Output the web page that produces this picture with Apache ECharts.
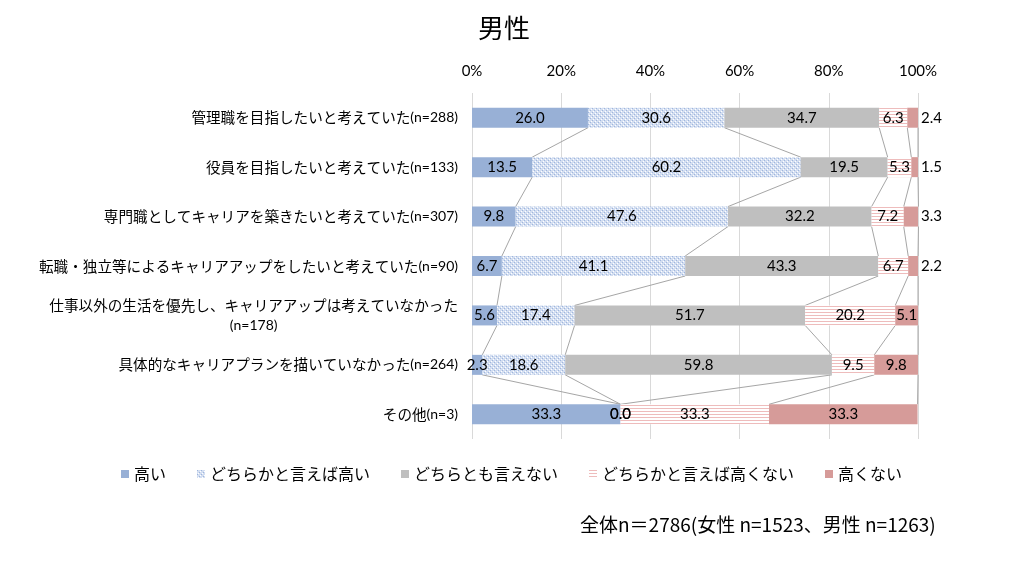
<!DOCTYPE html>
<html lang="ja">
<head>
<meta charset="UTF-8">
<title>男性</title>
<script src="https://cdn.jsdelivr.net/npm/echarts@6/dist/echarts.min.js"></script>
<style>
  html, body { margin: 0; padding: 0; background: #fff; }
  #chart { width: 1024px; height: 575px; }
</style>
</head>
<body>
<div id="chart"></div>
<script>
// カテゴリ（上から順）
var catNames = [
  '管理職を目指したいと考えていた',
  '役員を目指したいと考えていた',
  '専門職としてキャリアを築きたいと考えていた',
  '転職・独立等によるキャリアアップをしたいと考えていた',
  '仕事以外の生活を優先し、キャリアアップは考えていなかった',
  '具体的なキャリアプランを描いていなかった',
  'その他'
];
var catN = ['(n=288)', '(n=133)', '(n=307)', '(n=90)', '(n=178)', '(n=264)', '(n=3)'];

var seriesNames = ['高い', 'どちらかと言えば高い', 'どちらとも言えない', 'どちらかと言えば高くない', '高くない'];

var takai        = [26.0, 13.5,  9.8,  6.7,  5.6,  2.3, 33.3];
var yaya_takai   = [30.6, 60.2, 47.6, 41.1, 17.4, 18.6,  0.0];
var dochiramo    = [34.7, 19.5, 32.2, 43.3, 51.7, 59.8,  0.0];
var yaya_hikui   = [ 6.3,  5.3,  7.2,  6.7, 20.2,  9.5, 33.3];
var takakunai    = [ 2.4,  1.5,  3.3,  2.2,  5.1,  9.8, 33.3];

var xTicks = [0, 20, 40, 60, 80, 100];

var values = [takai, yaya_takai, dochiramo, yaya_hikui, takakunai];

// 模様（ドット・横縞）
function dotPattern() {
  var c = document.createElement('canvas');
  c.width = 4; c.height = 4;
  var g = c.getContext('2d');
  g.fillStyle = '#d3def1';
  g.fillRect(0, 0, 4, 4);
  g.fillStyle = '#9fb6dd';
  g.fillRect(0, 0, 1, 1);
  g.fillRect(2, 2, 1, 1);
  g.fillStyle = '#ffffff';
  g.fillRect(1, 3, 1, 1);
  g.fillRect(3, 1, 1, 1);
  return c;
}
function stripePattern() {
  var c = document.createElement('canvas');
  c.width = 4; c.height = 3;
  var g = c.getContext('2d');
  g.fillStyle = '#ffffff';
  g.fillRect(0, 0, 4, 3);
  g.fillStyle = '#eebcbc';
  g.fillRect(0, 0, 4, 1);
  return c;
}

var colors = [
  '#98b0d6',
  { image: dotPattern(), repeat: 'repeat' },
  '#bfbfbf',
  { image: stripePattern(), repeat: 'repeat' },
  '#d69b99'
];

var BAR_H = 20;

var series = values.map(function (arr, si) {
  return {
    name: seriesNames[si],
    type: 'bar',
    stack: 'all',
    barWidth: BAR_H,
    itemStyle: { color: colors[si] },
    label: {
      show: true,
      position: 'inside',
      formatter: function (p) { return p.value.toFixed(1); },
      fontFamily: 'Lato',
      fontSize: 15,
      color: '#000'
    },
    z: 3,
    data: arr.map(function (v) {
      if (si === 4 && v < 4) {
        return { value: v, label: { position: 'right', distance: 3 } };
      }
      return v;
    })
  };
});

// 区分線
var rowIdx = [];
for (var i = 0; i < catNames.length - 1; i++) rowIdx.push([0, i]);

series.push({
  type: 'custom',
  name: 'lines',
  z: 2,
  silent: true,
  renderItem: function (params, api) {
    var r = params.dataIndex;
    var a = 0, b = 0, kids = [];
    for (var k = 0; k < values.length; k++) {
      a += values[k][r];
      b += values[k][r + 1];
      var p1 = api.coord([a, r]);
      var p2 = api.coord([b, r + 1]);
      kids.push({
        type: 'line',
        shape: { x1: p1[0], y1: p1[1] + BAR_H / 2, x2: p2[0], y2: p2[1] - BAR_H / 2 },
        style: { stroke: '#a6a6a6', lineWidth: 1 }
      });
    }
    return { type: 'group', children: kids };
  },
  data: rowIdx
});

var chart = echarts.init(document.getElementById('chart'));
chart.setOption({
  backgroundColor: '#fff',
  animation: false,
  textStyle: { fontFamily: 'Noto Sans CJK JP' },
  title: {
    text: '男性',
    left: 473,
    top: 10,
    textStyle: { fontFamily: 'Noto Sans CJK JP', fontSize: 26, fontWeight: 'normal', color: '#000' }
  },
  legend: {
    data: seriesNames,
    left: 116,
    top: 461,
    itemWidth: 8,
    itemHeight: 8,
    itemGap: 31,
    icon: 'rect',
    textStyle: { fontFamily: 'Noto Sans CJK JP', fontSize: 16, color: '#000' }
  },
  grid: { left: 472, right: 106, top: 93, bottom: 136, containLabel: false },
  xAxis: {
    type: 'value',
    position: 'top',
    min: xTicks[0],
    max: xTicks[xTicks.length - 1],
    interval: xTicks[1] - xTicks[0],
    axisLine: { show: false },
    axisTick: { show: false },
    axisLabel: {
      formatter: '{value}%',
      fontFamily: 'Lato',
      fontSize: 15,
      color: '#000',
      margin: 14
    },
    splitLine: { lineStyle: { color: '#d9d9d9', width: 1 } }
  },
  yAxis: {
    type: 'category',
    inverse: true,
    data: catNames,
    axisLine: { show: false },
    axisTick: { show: false },
    axisLabel: {
      margin: 14,
      formatter: function (v, idx) {
        if (idx === 4) return '{j|' + v + '}\n{nc|' + catN[idx] + '}';
        return '{j|' + v + '}{n|' + catN[idx] + '}';
      },
      rich: {
        j: { fontFamily: 'Noto Sans CJK JP', fontSize: 14.6, color: '#000', lineHeight: 20 },
        n: { fontFamily: 'Lato', fontSize: 14, color: '#000', lineHeight: 20 },
        nc: { fontFamily: 'Lato', fontSize: 14, color: '#000', lineHeight: 20, align: 'center' }
      }
    }
  },
  graphic: [{
    type: 'text',
    left: 580,
    top: 515,
    style: {
      text: '全体n＝2786(女性 n=1523、男性 n=1263)',
      font: '19px "Noto Sans CJK JP"',
      fill: '#000'
    }
  }],
  series: series
});
</script>
</body>
</html>
